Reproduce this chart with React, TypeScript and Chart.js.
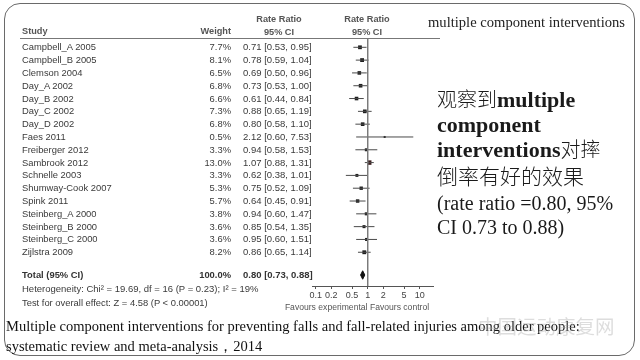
import React, { useEffect, useRef } from "react";
import { Chart, registerables } from "chart.js";

Chart.register(...registerables);

// ---- data ----
const studies = [
  "Campbell_A 2005", "Campbell_B 2005", "Clemson 2004", "Day_A 2002", "Day_B 2002",
  "Day_C 2002", "Day_D 2002", "Faes 2011", "Freiberger 2012", "Sambrook 2012",
  "Schnelle 2003", "Shumway-Cook 2007", "Spink 2011", "Steinberg_A 2000",
  "Steinberg_B 2000", "Steinberg_C 2000", "Zijlstra 2009",
];
const weights = [7.7, 8.1, 6.5, 6.8, 6.6, 7.3, 6.8, 0.5, 3.3, 13.0, 3.3, 5.3, 5.7, 3.8, 3.6, 3.6, 8.2];
const rateRatios = [0.71, 0.78, 0.69, 0.73, 0.61, 0.88, 0.80, 2.12, 0.94, 1.07, 0.62, 0.75, 0.64, 0.94, 0.85, 0.95, 0.86];
const ciLow = [0.53, 0.59, 0.50, 0.53, 0.44, 0.65, 0.58, 0.60, 0.58, 0.88, 0.38, 0.52, 0.45, 0.60, 0.54, 0.60, 0.65];
const ciHigh = [0.95, 1.04, 0.96, 1.00, 0.84, 1.19, 1.10, 7.53, 1.53, 1.31, 1.01, 1.09, 0.91, 1.47, 1.35, 1.51, 1.14];
const totalWeight = [100.0];
const totalRR = [0.80];
const totalCI = [0.73, 0.88];
const axisTicks = [0.1, 0.2, 0.5, 1, 2, 5, 10];

// ---- layout constants ----
const ROW0 = 47.3;
const ROWH = 12.81;
const TOP = 39;
const BOTTOM = 286;
const XL = 312;
const XR = 433;
const X1 = 367.7;
const DEC = 52;
const AXIS_H = 35;
const TOTAL_Y = 275;

const yMin = (TOP - ROW0) / ROWH;
const yMax = (BOTTOM - ROW0) / ROWH;
const totalRow = (TOTAL_Y - ROW0) / ROWH;
const xMin = Math.pow(10, (XL - X1) / DEC);
const xMax = Math.pow(10, (XR - X1) / DEC);

const f2 = (v: number) => v.toFixed(2);
const rowY = (i: number) => ROW0 + i * ROWH;

const SANS = '"Liberation Sans", Arial, Helvetica, sans-serif';
const SERIF = '"Liberation Serif", "Times New Roman", serif';
const CJK = '"Noto Sans CJK SC", sans-serif';

function T(props: { x: number; y: number; children: React.ReactNode; align?: "left" | "right" | "center"; style?: React.CSSProperties }) {
  const { x, y, align = "left", style } = props;
  const base: React.CSSProperties = {
    position: "absolute",
    top: y,
    whiteSpace: "nowrap",
    lineHeight: 1,
    fontFamily: SANS,
    fontSize: 9.4,
    color: "#3a3a3a",
  };
  if (align === "left") {
    base.left = x;
    base.transform = "translateY(-50%)";
  } else if (align === "right") {
    base.right = 640 - x;
    base.transform = "translateY(-50%)";
  } else {
    base.left = x;
    base.transform = "translate(-50%, -50%)";
  }
  return <div style={{ ...base, ...style }}>{props.children}</div>;
}

export default function App() {
  const canvasRef = useRef<HTMLCanvasElement | null>(null);

  useEffect(() => {
    if (!canvasRef.current) return;
    const datasets: any[] = [];
    datasets.push({
      type: "line",
      data: [{ x: 1, y: yMin }, { x: 1, y: yMax }],
      borderColor: "#7a7a7a",
      borderWidth: 1,
      pointRadius: 0,
    });
    studies.forEach((_, i) => {
      datasets.push({
        type: "line",
        data: [{ x: ciLow[i], y: i }, { x: ciHigh[i], y: i }],
        borderColor: "#4a4a4a",
        borderWidth: 1,
        pointRadius: 0,
      });
    });
    datasets.push({
      type: "scatter",
      data: studies.map((_, i) => ({ x: rateRatios[i], y: i })),
      pointStyle: "rect",
      pointRadius: weights.map((w) => 1 + 0.6 * Math.sqrt(w)),
      backgroundColor: studies.map((_, i) => (i === 9 ? "#3b1d1d" : "#1e1e1e")),
      borderWidth: 0,
    });
    datasets.push({
      type: "line",
      data: [
        { x: totalCI[0], y: totalRow },
        { x: totalRR[0], y: totalRow - 0.33 },
        { x: totalCI[1], y: totalRow },
        { x: totalRR[0], y: totalRow + 0.33 },
        { x: totalCI[0], y: totalRow },
      ],
      borderColor: "#111",
      backgroundColor: "#111",
      borderWidth: 1,
      pointRadius: 0,
      fill: "shape",
      tension: 0,
    });

    const chart = new Chart(canvasRef.current, {
      type: "scatter",
      data: { datasets },
      options: {
        animation: false,
        responsive: false,
        devicePixelRatio: 1,
        layout: { padding: { left: XL, right: 640 - XR, top: TOP, bottom: 360 - BOTTOM - AXIS_H } },
        plugins: { legend: { display: false }, tooltip: { enabled: false } },
        scales: {
          x: {
            type: "logarithmic",
            min: xMin,
            max: xMax,
            afterBuildTicks: (s: any) => {
              s.ticks = axisTicks.map((v) => ({ value: v }));
            },
            afterFit: (s: any) => {
              s.height = AXIS_H;
            },
            ticks: {
              callback: (v: any) => String(v),
              autoSkip: false,
              maxRotation: 0,
              padding: 1,
              color: "#444",
              font: { family: SANS, size: 9 },
            },
            grid: { display: true, drawOnChartArea: false, drawTicks: true, tickLength: 3, color: "#555" },
            border: { display: true, color: "#555" },
          },
          y: { type: "linear", reverse: true, min: yMin, max: yMax, display: false },
        },
      } as any,
    });
    return () => chart.destroy();
  }, []);

  const hdr: React.CSSProperties = { fontWeight: "bold", color: "#555", fontSize: 9.2 };
  const num: React.CSSProperties = { fontSize: 9.5 };
  const big: React.CSSProperties = { fontSize: 22, color: "#1a1a1a" };
  const cjk: React.CSSProperties = { fontFamily: CJK, fontWeight: 300 };

  return (
    <div style={{ position: "absolute", left: 0, top: 0, width: 640, height: 360, background: "#fff", overflow: "hidden" }}>
      <div style={{ position: "absolute", left: 4, top: 3, width: 631, height: 353, border: "1px solid #6a6a6a", borderRadius: 16, boxSizing: "border-box" }} />
      <canvas ref={canvasRef} width={640} height={360} style={{ position: "absolute", left: 0, top: 0, width: 640, height: 360 }} />

      {/* header */}
      <T x={22} y={32} style={hdr}>Study</T>
      <T x={231} y={32} align="right" style={hdr}>Weight</T>
      <T x={279} y={20} align="center" style={hdr}>Rate Ratio</T>
      <T x={279} y={32.5} align="center" style={hdr}>95% CI</T>
      <T x={367} y={20} align="center" style={hdr}>Rate Ratio</T>
      <T x={367} y={32.5} align="center" style={hdr}>95% CI</T>
      <div style={{ position: "absolute", left: 20, top: 38, width: 420, height: 1, background: "#777" }} />

      {/* rows */}
      {studies.map((s, i) => (
        <React.Fragment key={s}>
          <T x={22} y={rowY(i)}>{s}</T>
          <T x={231} y={rowY(i)} align="right">{weights[i].toFixed(1)}%</T>
          <T x={243} y={rowY(i)} style={num}>{`${f2(rateRatios[i])} [${f2(ciLow[i])}, ${f2(ciHigh[i])}]`}</T>
        </React.Fragment>
      ))}

      {/* total */}
      <T x={22} y={TOTAL_Y} style={{ fontWeight: "bold", color: "#333" }}>Total (95% CI)</T>
      <T x={231} y={TOTAL_Y} align="right" style={{ fontWeight: "bold", color: "#333" }}>{totalWeight[0].toFixed(1)}%</T>
      <T x={243} y={TOTAL_Y} style={{ ...num, fontWeight: "bold", color: "#333" }}>{`${f2(totalRR[0])} [${f2(totalCI[0])}, ${f2(totalCI[1])}]`}</T>
      <T x={22} y={289} style={{ fontSize: 9.5 }}>Heterogeneity: Chi² = 19.69, df = 16 (P = 0.23); I² = 19%</T>
      <T x={22} y={302.5} style={{ fontSize: 9.4 }}>Test for overall effect: Z = 4.58 (P &lt; 0.00001)</T>
      <T x={357} y={307} align="center" style={{ fontSize: 8.6, color: "#555" }}>Favours experimental Favours control</T>

      {/* right panel */}
      <T x={428} y={22} style={{ fontFamily: SERIF, fontSize: 14.6, color: "#222" }}>multiple component interventions</T>
      <T x={437} y={100} style={big}>
        <span style={{ ...cjk, fontSize: 20 }}>观察到</span>
        <span style={{ fontFamily: SERIF, fontWeight: "bold" }}>multiple</span>
      </T>
      <T x={437} y={125} style={{ ...big, fontFamily: SERIF, fontWeight: "bold" }}>component</T>
      <T x={437} y={150} style={big}>
        <span style={{ fontFamily: SERIF, fontWeight: "bold" }}>interventions</span>
        <span style={{ ...cjk, fontSize: 20 }}>对摔</span>
      </T>
      <T x={437} y={175} style={{ ...cjk, fontSize: 21, color: "#1a1a1a" }}>倒率有好的效果</T>
      <T x={437} y={203} style={{ fontFamily: SERIF, fontSize: 20, color: "#1a1a1a" }}>(rate ratio =0.80, 95%</T>
      <T x={437} y={227} style={{ fontFamily: SERIF, fontSize: 20, color: "#1a1a1a" }}>CI 0.73 to 0.88)</T>

      {/* caption */}
      <T x={6} y={326} style={{ fontFamily: SERIF, fontSize: 14.5, color: "#111" }}>
        Multiple component interventions for preventing falls and fall-related injuries among older people:
      </T>
      <T x={6} y={346} style={{ fontFamily: SERIF, fontSize: 14.5, color: "#111" }}>systematic review and meta-analysis，2014</T>
      <T x={478} y={326} style={{ fontFamily: CJK, fontSize: 19.5, color: "rgba(170,170,170,0.4)" }}>中国运动康复网</T>
    </div>
  );
}
